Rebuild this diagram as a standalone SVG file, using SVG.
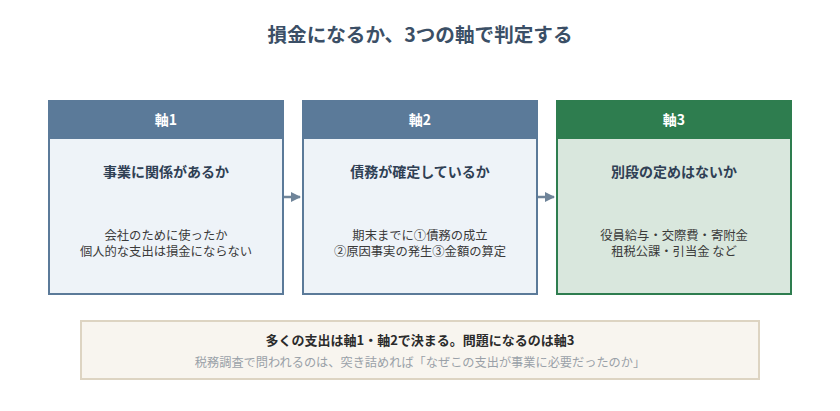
<svg xmlns="http://www.w3.org/2000/svg" width="840" height="411" viewBox="0 0 840 411">
<defs>
<style>
text{font-family:"Noto Sans CJK JP","Noto Sans",sans-serif;text-anchor:middle}
.title{font-size:19.6px;font-weight:700;fill:#3b4f66}
.hdr{font-size:14px;font-weight:700;fill:#ffffff}
.q{font-size:14px;font-weight:700;fill:#2f4054}
.d{font-size:12.3px;fill:#3a3a3a}
.bhead{fill:#5b7a99}
.bbody{fill:#eef3f8;stroke:#5b7a99;stroke-width:2}
.ghead{fill:#2e7d4f}
.gbody{fill:#d9e7dd;stroke:#2e7d4f;stroke-width:2}
.conn{stroke:#6f8499;stroke-width:2.5;fill:none}
</style>
<marker id="ah" viewBox="0 0 10 10" refX="9" refY="5" markerWidth="4" markerHeight="4" orient="auto" markerUnits="strokeWidth">
<path d="M0,0 L10,5 L0,10 z" fill="#6f8499"/>
</marker>
</defs>
<rect width="840" height="411" fill="#ffffff"/>
<text class="title" x="420" y="42">損金になるか、3つの軸で判定する</text>

<g id="axis1">
<rect class="bbody" x="49" y="101" width="234" height="193"/>
<rect class="bhead" x="48" y="100" width="236" height="39"/>
<text class="hdr" x="166" y="125">軸1</text>
<text class="q" x="166" y="177">事業に関係があるか</text>
<text class="d" x="166" y="240">会社のために使ったか</text>
<text class="d" x="166" y="256">個人的な支出は損金にならない</text>
</g>

<g id="axis2">
<rect class="bbody" x="303" y="101" width="234" height="193"/>
<rect class="bhead" x="302" y="100" width="236" height="39"/>
<text class="hdr" x="420" y="125">軸2</text>
<text class="q" x="420" y="177">債務が確定しているか</text>
<text class="d" x="420" y="240">期末までに①債務の成立</text>
<text class="d" x="420" y="256">②原因事実の発生③金額の算定</text>
</g>

<g id="axis3">
<rect class="gbody" x="557" y="101" width="234" height="193"/>
<rect class="ghead" x="556" y="100" width="236" height="39"/>
<text class="hdr" x="674" y="125">軸3</text>
<text class="q" x="674" y="177">別段の定めはないか</text>
<text class="d" x="674" y="240">役員給与・交際費・寄附金</text>
<text class="d" x="674" y="256">租税公課・引当金 など</text>
</g>

<g id="connectors">
<line class="conn" x1="284" y1="197" x2="300" y2="197" marker-end="url(#ah)"/>
<line class="conn" x1="538" y1="197" x2="554" y2="197" marker-end="url(#ah)"/>
</g>

<g id="summary">
<rect x="81" y="321" width="678" height="58" fill="#f8f5ef" stroke="#ddd4c2" stroke-width="2"/>
<text x="420" y="345" style="font-size:13px;font-weight:700;fill:#2b2b2b">多くの支出は軸1・軸2で決まる。問題になるのは軸3</text>
<text x="420" y="367" style="font-size:12.2px;fill:#9aa1a8">税務調査で問われるのは、突き詰めれば「なぜこの支出が事業に必要だったのか」</text>
</g>
</svg>
